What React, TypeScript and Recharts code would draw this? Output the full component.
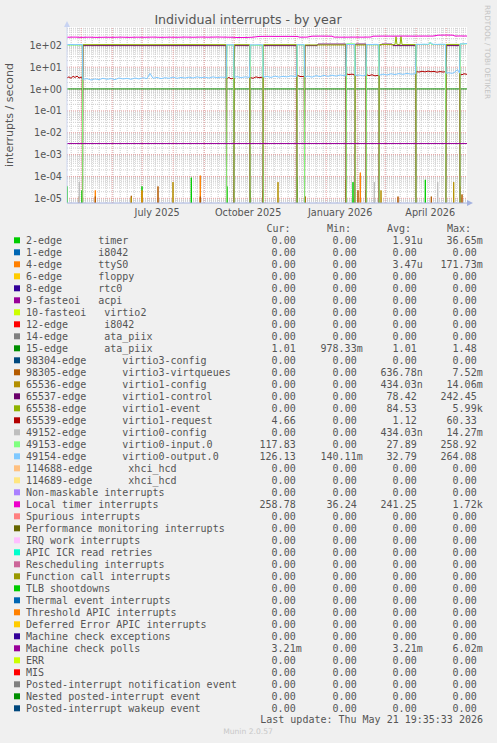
import React from 'react';
import { LineChart, Line, XAxis, YAxis, CartesianGrid, ReferenceLine } from 'recharts';

type Pt = [number, number];

// x = days since 2025-04-16 19:35 (400-day window ending 2026-05-21 19:35)
const xTickDays = [90.2, 181.2, 273.2, 363.2];
const xTickLabels = ['July 2025', 'October 2025', 'January 2026', 'April 2026'];
const monthStartDays = [14.18, 45.18, 75.18, 106.18, 137.18, 167.18, 198.18, 228.18, 259.18, 290.18, 318.18, 349.18, 379.18];
const weekGridDays = Array.from({ length: 57 }, (_, i) => 4.18 + 7 * i);

const decadeValues = [1e-5, 1e-4, 1e-3, 1e-2, 1e-1, 1, 10, 100];
const decadeLabels = ['1e-05', '1e-04', '1e-03', '1e-02', '1e-01', '1e+00', '1e+01', '1e+02'];
const Y_MIN = 6.1e-6;
const Y_MAX = 690;
const minorYValues: number[] = [];
for (let e = -6; e <= 2; e++) {
  for (let m = 2; m <= 9; m++) {
    const v = m * Math.pow(10, e);
    if (v > Y_MIN && v < Y_MAX) minorYValues.push(v);
  }
}

// ---- series (interrupts / second)
const irq2TimerPeaks: Pt[] = [[0.3, 3.5e-5], [15, 2.3e-5], [75, 3.5e-5], [124.3, 8.8e-5], [160, 3.5e-5], [183.3, 2.3e-5], [230.3, 1e-4], [286, 5.5e-5], [358.3, 7e-5]];
const irq4TtyPeaks: Pt[] = [[28.3, 2.3e-5], [75, 2.3e-5], [133.3, 1.1e-4], [166.7, 2.3e-5], [293.3, 1.5e-4], [393.3, 3.5e-5]];
const irq15AtaPiix: Pt[] = [[0, 1.01], [400, 1.01]];
const virtio3VirtqueuePeaks: Pt[] = [[12.3, 1.2e-5], [28.3, 1.2e-5], [64.3, 1.3e-5], [91, 3.5e-5], [133.3, 1.2e-5], [238.3, 1.2e-5], [291, 2.3e-5], [331, 1.2e-5], [364.3, 1.2e-5], [395, 1.5e-5]];
const virtio1ConfigPeaks: Pt[] = [[64.3, 1.1e-5], [106, 5.5e-5], [196, 2.3e-5], [211, 5.5e-5], [279, 7e-5], [299, 2.3e-5], [314, 2.3e-5], [386.7, 5.5e-5]];
const virtio0ConfigPeaks: Pt[] = [[12.3, 5.5e-5], [307.3, 5.5e-5], [370.7, 5.5e-5]];

const virtio1Control: Pt[] = [
  [0, 0], [15.3, 0], [15.9, 97], [159.2, 97], [159.8, 0], [166.7, 0], [167.3, 97], [182.6, 97], [183.2, 0],
  [195.9, 0], [196.5, 97], [229.6, 97], [230.2, 0], [237.3, 0], [237.9, 97], [250, 97], [251, 114], [278.8, 114],
  [279.5, 0], [287.9, 0], [288.5, 114], [299, 114], [299.5, 0], [311.9, 0], [312.5, 97], [315, 114], [325, 114],
  [326, 97], [348.6, 97], [349.2, 0], [378.6, 0], [379.2, 97], [392.6, 97], [393.2, 0], [400, 0],
];
const virtio1Event: Pt[] = [
  [0, 0], [15.3, 0], [15.9, 107], [40, 108], [80, 107], [120, 108], [159.2, 107], [159.8, 0], [166.7, 0],
  [167.3, 107], [182.6, 107], [183.2, 0], [195.9, 0], [196.5, 107], [229.6, 107], [230.2, 0], [237.3, 0],
  [237.9, 104], [279, 104], [279.5, 0], [287.9, 0], [288.5, 104], [299, 104], [299.5, 0], [311.9, 0],
  [312.5, 108], [328, 108], [329, 250], [330, 108], [333, 108], [334, 255], [335, 108], [348.6, 108],
  [349.2, 0], [378.6, 0], [379.2, 110], [392.6, 110], [393.2, 0], [400, 0],
];
const virtio1Request: Pt[] = [
  [0, 3.3], [2, 3.6], [4, 3.1], [6, 3.8], [8, 3.4], [10, 3.9], [12, 3.2], [14, 3.5], [15.2, 3.4], [15.8, 0],
  [159.2, 0], [159.8, 3.0], [162, 3.4], [164, 2.9], [166.5, 3.2], [167.1, 0],
  [182.5, 0], [183.1, 3.4], [186, 3.1], [189, 3.6], [192, 3.3], [195.8, 3.5], [196.4, 0],
  [229.5, 0], [230.1, 4.4], [232, 3.9], [234, 3.7], [237.2, 3.8], [237.8, 0],
  [278.8, 0], [279.4, 4.9], [282, 4.6], [285, 4.8], [287.8, 4.4], [288.4, 0],
  [298.8, 0], [299.4, 4.6], [302, 4.1], [305, 4.5], [308, 4.0], [311.8, 4.3], [312.4, 0],
  [348.5, 0], [349.1, 6.3], [352, 6.0], [355, 6.5], [358, 6.1], [361, 6.6], [364, 6.2], [367, 6.4], [370, 5.9],
  [373, 6.3], [376, 6.0], [378.5, 6.2], [379.1, 0],
  [392.5, 0], [393.1, 4.8], [395, 4.5], [397, 5.0], [400, 4.7],
];
const virtio0Input: Pt[] = [
  [0, 102], [15.3, 102], [16.0, 0], [159.4, 0], [159.9, 102], [166.6, 101], [167.3, 0], [182.8, 0],
  [183.2, 101], [195.8, 100], [196.5, 0], [229.7, 0], [230.2, 104], [237.2, 103], [237.9, 0], [279.1, 0],
  [279.5, 118], [287.8, 117], [288.5, 0], [299.1, 0], [299.5, 105], [311.8, 104], [312.5, 0], [348.8, 0],
  [349.2, 108], [362, 108], [363, 140], [364.5, 108], [378.5, 107], [379.2, 0], [392.8, 0], [393.2, 115],
  [400, 117],
];
const virtio0Output: Pt[] = [
  [0, 108], [4, 110], [8, 107], [12, 109], [15.3, 108], [15.8, 2.8],
  [20, 3.0], [24, 2.6], [28, 2.9], [32, 2.7], [36, 3.1], [40, 2.8], [44, 3.0], [48, 2.7], [52, 3.2], [56, 2.9],
  [60, 3.1], [64, 2.8], [68, 3.2], [72, 2.9], [76, 3.3], [80, 3.0], [83, 5.2], [86, 3.1], [90, 3.4], [94, 3.0],
  [98, 3.3], [102, 3.1], [106, 3.5], [110, 3.1], [114, 3.4], [118, 3.2], [122, 3.5], [126, 3.2], [130, 3.6],
  [134, 3.3], [138, 3.5], [142, 3.2], [146, 3.6], [150, 3.3], [154, 3.5], [159.2, 3.4],
  [159.8, 107], [163, 105], [166.6, 106], [167.2, 3.4],
  [170, 3.7], [174, 3.3], [178, 3.6], [182.5, 3.4],
  [183.1, 106], [187, 104], [191, 107], [195.8, 105], [196.4, 3.5],
  [200, 3.8], [204, 3.4], [208, 3.9], [212, 3.5], [216, 3.8], [220, 3.6], [224, 4.0], [229.5, 3.7],
  [230.1, 108], [234, 106], [237.2, 107], [237.8, 3.6],
  [241, 3.9], [245, 3.5], [249, 4.1], [253, 3.7], [257, 4.2], [261, 3.8], [265, 4.3], [269, 3.9], [273, 4.4], [278.8, 4.0],
  [279.4, 110], [283, 108], [287.8, 109], [288.4, 4.1],
  [292, 4.4], [296, 4.0], [298.8, 4.3],
  [299.4, 110], [304, 108], [308, 111], [311.8, 109], [312.4, 4.3],
  [316, 4.8], [320, 4.4], [324, 5.0], [328, 4.6], [332, 5.1], [336, 4.7], [340, 5.2], [344, 4.8], [348.5, 5.0],
  [349.1, 112], [353, 110], [357, 113], [361, 111], [364, 130], [366, 112], [370, 110], [374, 113], [378.5, 111], [379.1, 5.3],
  [382, 5.6], [385, 5.2], [388, 6.0], [390.5, 7.8], [392.5, 5.4],
  [393.1, 118], [396, 116], [400, 122],
];
const localTimer: Pt[] = [
  [0, 235], [8, 238], [14, 232], [22, 236], [30, 231], [38, 235], [46, 233], [54, 237], [62, 232], [70, 236],
  [78, 234], [86, 238], [94, 233], [102, 236], [110, 234], [118, 238], [126, 235], [134, 239], [142, 236],
  [150, 240], [158, 237], [166, 234], [170, 228], [180, 230], [186, 236], [192, 255], [200, 258], [210, 256],
  [220, 257], [230, 255], [233, 236], [240, 238], [245, 262], [255, 264], [265, 262], [267, 238], [276, 236],
  [286, 238], [296, 237], [304, 240], [306, 262], [316, 265], [326, 263], [336, 266], [346, 264], [356, 266],
  [366, 265], [371, 292], [380, 295], [386, 292], [388, 266], [394, 268], [400, 266],
];
const machineCheckPolls: Pt[] = [[0, 0.00321], [400, 0.00321]];

// ---- legend table
const legendLabels = [
  '2-edge      timer', '1-edge      i8042', '4-edge      ttyS0', '6-edge      floppy', '8-edge      rtc0',
  '9-fasteoi   acpi', '10-fasteoi   virtio2', '12-edge      i8042', '14-edge      ata_piix', '15-edge      ata_piix',
  '98304-edge      virtio3-config', '98305-edge      virtio3-virtqueues', '65536-edge      virtio1-config',
  '65537-edge      virtio1-control', '65538-edge      virtio1-event', '65539-edge      virtio1-request',
  '49152-edge      virtio0-config', '49153-edge      virtio0-input.0', '49154-edge      virtio0-output.0',
  '114688-edge      xhci_hcd', '114689-edge      xhci_hcd', 'Non-maskable interrupts', 'Local timer interrupts',
  'Spurious interrupts', 'Performance monitoring interrupts', 'IRQ work interrupts', 'APIC ICR read retries',
  'Rescheduling interrupts', 'Function call interrupts', 'TLB shootdowns', 'Thermal event interrupts',
  'Threshold APIC interrupts', 'Deferred Error APIC interrupts', 'Machine check exceptions', 'Machine check polls',
  'ERR', 'MIS', 'Posted-interrupt notification event', 'Nested posted-interrupt event', 'Posted-interrupt wakeup event',
];
const legendColors = [
  '#00CC00', '#0066B3', '#FF8000', '#FFCC00', '#330099', '#990099', '#CCFF00', '#FF0000', '#808080', '#008F00',
  '#00487D', '#B35A00', '#B38F00', '#6B006B', '#8FB300', '#B30000', '#BEBEBE', '#80FF80', '#80C9FF', '#FFC080',
  '#FFE680', '#AA80FF', '#EE00CC', '#FF8080', '#666600', '#FFBFFF', '#00FFCC', '#CC6699', '#999900', '#00CC00',
  '#0066B3', '#FF8000', '#FFCC00', '#330099', '#990099', '#CCFF00', '#FF0000', '#808080', '#008F00', '#00487D',
];
const Z = '0.00';
const curValues = [Z, Z, Z, Z, Z, Z, Z, Z, Z, '1.01', Z, Z, Z, Z, Z, '4.66', Z, '117.83', '126.13', Z, Z, Z, '258.78', Z, Z, Z, Z, Z, Z, Z, Z, Z, Z, Z, '3.21m', Z, Z, Z, Z, Z];
const minValues = [Z, Z, Z, Z, Z, Z, Z, Z, Z, '978.33m', Z, Z, Z, Z, Z, Z, Z, Z, '140.11m', Z, Z, Z, '36.24', Z, Z, Z, Z, Z, Z, Z, Z, Z, Z, Z, Z, Z, Z, Z, Z, Z];
const avgValues = ['1.91u', Z, '3.47u', Z, Z, Z, Z, Z, Z, '1.01', Z, '636.78n', '434.03n', '78.42', '84.53', '1.12', '434.03n', '27.89', '32.79', Z, Z, Z, '241.25', Z, Z, Z, Z, Z, Z, Z, Z, Z, Z, Z, '3.21m', Z, Z, Z, Z, Z];
const maxValues = ['36.65m', Z, '171.73m', Z, Z, Z, Z, Z, Z, '1.48', Z, '7.52m', '14.06m', '242.45', '5.99k', '60.33', '14.27m', '258.92', '264.08', Z, Z, Z, '1.72k', Z, Z, Z, Z, Z, Z, Z, Z, Z, Z, Z, '6.02m', Z, Z, Z, Z, Z];

// ---- build rows for the library (0 cannot be drawn on a log scale -> push far below the axis)
const FLOOR = 1e-9;
const toRows = (pts: Pt[]) => pts.map(([d, v]) => ({ d, v: v > 0 ? v : FLOOR }));
const spikeRows = (peaks: Pt[]) => {
  const out: Pt[] = [[0, 0]];
  peaks.forEach(([d, v]) => {
    out.push([Math.max(0, d - 1), 0], [d, v], [Math.min(400, d + 1), 0]);
  });
  out.push([400, 0]);
  return toRows(out);
};

const lineDefs = [
  { id: 'irq2', color: '#00CC00', rows: spikeRows(irq2TimerPeaks) },
  { id: 'irq4', color: '#FF8000', rows: spikeRows(irq4TtyPeaks) },
  { id: 'irq15', color: '#008F00', rows: toRows(irq15AtaPiix) },
  { id: 'v3q', color: '#B35A00', rows: spikeRows(virtio3VirtqueuePeaks) },
  { id: 'v1cfg', color: '#B38F00', rows: spikeRows(virtio1ConfigPeaks) },
  { id: 'v1ctl', color: '#6B006B', rows: toRows(virtio1Control) },
  { id: 'v1evt', color: '#8FB300', rows: toRows(virtio1Event) },
  { id: 'v1req', color: '#B30000', rows: toRows(virtio1Request) },
  { id: 'v0cfg', color: '#BEBEBE', rows: spikeRows(virtio0ConfigPeaks) },
  { id: 'v0in', color: '#80FF80', rows: toRows(virtio0Input) },
  { id: 'v0out', color: '#80C9FF', rows: toRows(virtio0Output) },
  { id: 'loc', color: '#EE00CC', rows: toRows(localTimer) },
  { id: 'mcp', color: '#990099', rows: toRows(machineCheckPolls) },
];

const SANS = 'DejaVu Sans';
const MONO = 'DejaVu Sans Mono';
const TXT = '#555555';

const XTick = (props: any) => {
  const { x, payload } = props;
  const i = xTickDays.indexOf(payload.value);
  return (
    <text x={x} y={216} textAnchor="middle" fontFamily={SANS} fontSize={9.7} fill={TXT}>
      {i >= 0 ? xTickLabels[i] : ''}
    </text>
  );
};

const YTick = (props: any) => {
  const { y, payload } = props;
  const i = decadeValues.findIndex((d) => Math.abs(Math.log10(d) - Math.log10(payload.value)) < 1e-6);
  if (i < 0) return <g />;
  return (
    <text x={62} y={y + 3.5} textAnchor="end" fontFamily={SANS} fontSize={9.7} fill={TXT}>
      {decadeLabels[i]}
    </text>
  );
};

const numEnd = (s: string, right: number) => (/[a-z]$/i.test(s) ? right : right - 6);
const COLS = [301.7, 362.7, 422.7, 482.7];

export default function App() {
  return (
    <div style={{ position: 'absolute', left: 0, top: 0, width: 497, height: 743, background: '#F0F0F0', overflow: 'hidden' }}>
      <div style={{ position: 'absolute', left: 0, top: 0 }}>
        <LineChart width={497} height={230} margin={{ top: 27, right: 30, bottom: 7, left: 0 }}>
          <CartesianGrid horizontal={false} vertical={false} fill="#ffffff" />
          {minorYValues.map((v) => (
            <ReferenceLine key={'hy' + v} y={v} stroke="#cccccc" strokeDasharray="1 1" strokeWidth={1} />
          ))}
          {weekGridDays.map((d) => (
            <ReferenceLine key={'wx' + d} x={d} stroke="#cccccc" strokeDasharray="1 1" strokeWidth={1} />
          ))}
          {decadeValues.map((v) => (
            <ReferenceLine key={'dy' + v} y={v} stroke="#e8a0a0" strokeDasharray="1 1" strokeWidth={1} />
          ))}
          {monthStartDays.map((d) => (
            <ReferenceLine key={'mx' + d} x={d} stroke="#e8a0a0" strokeDasharray="1 1" strokeWidth={1} />
          ))}
          <XAxis
            type="number"
            dataKey="d"
            domain={[0, 400]}
            ticks={xTickDays}
            interval={0}
            tick={(p: any) => <XTick {...p} />}
            tickLine={false}
            axisLine={{ stroke: '#a4b2e0' }}
            height={20}
            allowDataOverflow
          />
          <YAxis
            type="number"
            scale="log"
            domain={[Y_MIN, Y_MAX]}
            ticks={decadeValues}
            interval={0}
            tick={(p: any) => <YTick {...p} />}
            tickLine={false}
            axisLine={{ stroke: '#cfd8f2' }}
            width={67}
            allowDataOverflow
          />
          {lineDefs.map((s) => (
            <Line
              key={s.id}
              data={s.rows}
              dataKey="v"
              type="linear"
              stroke={s.color}
              strokeWidth={1}
              dot={false}
              activeDot={false}
              isAnimationActive={false}
            />
          ))}
        </LineChart>
      </div>
      <svg width={497} height={743} style={{ position: 'absolute', left: 0, top: 0, pointerEvents: 'none' }}>
        <text x={248} y={24} textAnchor="middle" fontFamily={SANS} fontSize={12.6} fill={TXT}>
          Individual interrupts - by year
        </text>
        <text transform="translate(13,115) rotate(-90)" textAnchor="middle" fontFamily={SANS} fontSize={11} fill={TXT}>
          interrupts / second
        </text>
        <text transform="translate(485,52) rotate(90)" textAnchor="middle" fontFamily={SANS} fontSize={7.3} fill="#c4c4c4">
          RRDTOOL / TOBI OETIKER
        </text>
        <polygon points="64,27 70,27 67,21" fill="#c8d3f2" />
        <polygon points="467,200 467,206 473,203" fill="#a4b2e0" />
        <text x={266.5} y={231.5} fontFamily={MONO} fontSize={10} fill={TXT}>Cur:</text>
        <text x={327} y={231.5} fontFamily={MONO} fontSize={10} fill={TXT}>Min:</text>
        <text x={387} y={231.5} fontFamily={MONO} fontSize={10} fill={TXT}>Avg:</text>
        <text x={447} y={231.5} fontFamily={MONO} fontSize={10} fill={TXT}>Max:</text>
        {legendLabels.map((label, i) => {
          const base = 244 + 12 * i;
          const vals = [curValues[i], minValues[i], avgValues[i], maxValues[i]];
          return (
            <g key={'lg' + i}>
              <rect x={14} y={base - 6.7} width={6} height={6} fill={legendColors[i]} />
              <text x={26} y={base} fontFamily={MONO} fontSize={10} fill={TXT} xmlSpace="preserve" style={{ whiteSpace: 'pre' }}>
                {label}
              </text>
              {vals.map((v, j) => (
                <text key={j} x={numEnd(v, COLS[j])} y={base} textAnchor="end" fontFamily={MONO} fontSize={10} fill={TXT}>
                  {v}
                </text>
              ))}
            </g>
          );
        })}
        <text x={483} y={723.3} textAnchor="end" fontFamily={MONO} fontSize={10} fill={TXT}>
          Last update: Thu May 21 19:35:33 2026
        </text>
        <text x={248} y={734} textAnchor="middle" fontFamily={SANS} fontSize={7.6} fill="#c8c8c8">
          Munin 2.0.57
        </text>
      </svg>
    </div>
  );
}
